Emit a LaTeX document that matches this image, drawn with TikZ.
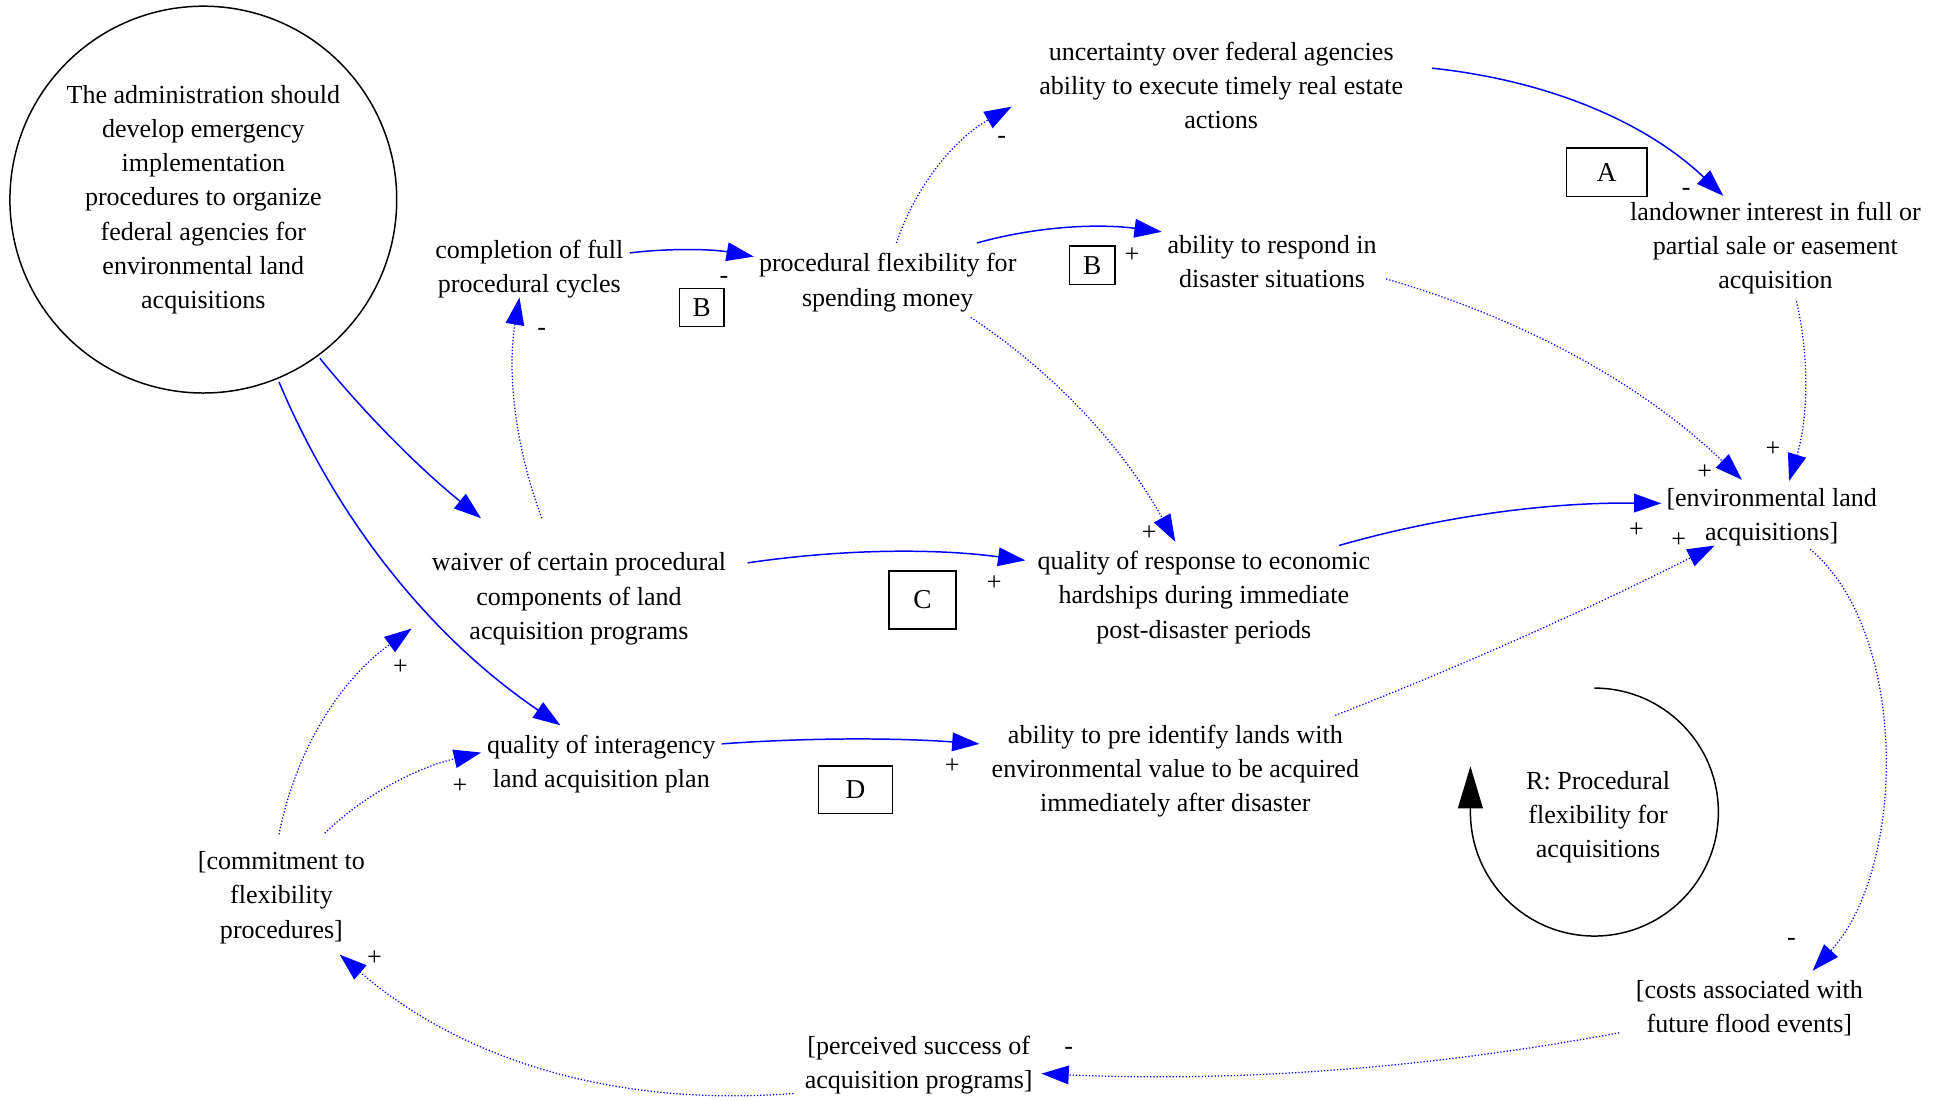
\documentclass[tikz,border=0pt]{standalone}
\usepackage{fontspec}
\setmainfont{Liberation Serif}
\usetikzlibrary{arrows.meta,calc}
\begin{document}
\begin{tikzpicture}[x=0.5pt,y=0.5pt,
  lbl/.style={font=\fontsize{10.5}{13.8}\selectfont, align=center, inner sep=0pt},
  pol/.style={font=\fontsize{10.5}{12}\selectfont, inner sep=0pt},
  box/.style={draw, line width=0.6pt, font=\fontsize{11}{13}\selectfont, inner sep=0pt},
  sl/.style={blue, line width=0.6pt, -{Triangle[length=11pt,width=7.5pt]}},
  dl/.style={blue, line width=0.5pt, dash pattern=on 0.5pt off 0.8pt, -{Triangle[length=11pt,width=7.5pt]}}]
\useasboundingbox (0,0) rectangle (1568,-887);

\node[circle, draw, line width=0.6pt, minimum size=156pt, lbl] (admin) at (164,-161) {The administration should\\develop emergency\\implementation\\procedures to organize\\federal agencies for\\environmental land\\acquisitions};
\node[lbl] (compl) at (427,-217) {completion of full\\procedural cycles};
\node[lbl] (pflex) at (716,-228) {procedural flexibility for\\spending money};
\node[lbl] (uncert) at (985,-69) {uncertainty over federal agencies\\ability to execute timely real estate\\actions};
\node[lbl] (respond) at (1026,-211) {ability to respond in\\disaster situations};
\node[lbl] (landown) at (1432,-200) {landowner interest in full or\\partial sale or easement\\acquisition};
\node[lbl] (envland) at (1429,-417) {[environmental land\\acquisitions]};
\node[lbl] (waiver) at (467,-483) {waiver of certain procedural\\components of land\\acquisition programs};
\node[lbl] (qresp) at (971,-482) {quality of response to economic\\hardships during immediate\\post-disaster periods};
\node[lbl] (qinter) at (485,-616) {quality of interagency\\land acquisition plan};
\node[lbl] (preid) at (948,-622) {ability to pre identify lands with\\environmental value to be acquired\\immediately after disaster};
\node[lbl] (rloop) at (1289,-659) {R: Procedural\\flexibility for\\acquisitions};
\node[lbl] (costs) at (1411,-813) {[costs associated with\\future flood events]};
\node[lbl] (percv) at (741,-859) {[perceived success of\\acquisition programs]};
\node[lbl] (commit) at (227,-724) {[commitment to\\flexibility\\procedures]};

\node[box, minimum width=32.5pt, minimum height=19.5pt] (bA) at (1296,-139) {A};
\node[box, minimum width=18pt, minimum height=15.5pt] (bB1) at (566,-248) {B};
\node[box, minimum width=18.5pt, minimum height=15.5pt] (bB2) at (881,-214) {B};
\node[box, minimum width=27pt, minimum height=23.5pt] (bC) at (744,-484) {C};
\node[box, minimum width=30pt, minimum height=19pt] (bD) at (690,-637) {D};

\draw[sl] ($(admin)+(94,-128)$) .. controls (297,-337) and (341,-380) .. ($(waiver)+(-79,65)$);
\draw[sl] ($(admin)+(61,-147)$) .. controls (273,-422) and (349,-515) .. ($(qinter)+(-33,31)$);
\draw[sl] ($(compl)+(81,13)$) .. controls (541,-200) and (575,-201) .. ($(pflex)+(-108,21)$);
\draw[dl] ($(waiver)+(-30,65)$) .. controls (415,-359) and (409,-299) .. ($(compl)+(-8,-23)$);
\draw[dl] ($(pflex)+(7,32)$) .. controls (739,-149) and (770,-112) .. ($(uncert)+(-169,-17)$);
\draw[sl] ($(pflex)+(72,32)$) .. controls (834,-183) and (884,-180) .. ($(respond)+(-89,24)$);
\draw[dl] ($(pflex)+(67,-28)$) .. controls (851,-301) and (906,-361) .. ($(qresp)+(-23,45)$);
\draw[sl] ($(uncert)+(170,14)$) .. controls (1250,-65) and (1328,-99) .. ($(landown)+(-42,42)$);
\draw[dl] ($(respond)+(92,-14)$) .. controls (1232,-258) and (1327,-312) .. ($(envland)+(-24,30)$);
\draw[dl] ($(landown)+(17,-43)$) .. controls (1460,-291) and (1458,-339) .. ($(envland)+(14,29)$);
\draw[sl] ($(waiver)+(136,29)$) .. controls (678,-443) and (752,-442) .. ($(qresp)+(-144,30)$);
\draw[sl] ($(qresp)+(109,42)$) .. controls (1160,-417) and (1247,-405) .. ($(envland)+(-89,11)$);
\draw[dl] ($(preid)+(129,45)$) .. controls (1182,-536) and (1284,-490) .. ($(envland)+(-46,-23)$);
\draw[sl] ($(qinter)+(97,16)$) .. controls (651,-595) and (721,-595) .. ($(preid)+(-158,22)$);
\draw[dl] ($(commit)+(-2,51)$) .. controls (239,-604) and (274,-549) .. ($(waiver)+(-135,-24)$);
\draw[dl] ($(commit)+(35,52)$) .. controls (295,-640) and (337,-619) .. ($(qinter)+(-97,9)$);
\draw[dl] ($(envland)+(31,-26)$) .. controls (1540,-510) and (1538,-700) .. ($(costs)+(51,30)$);
\draw[dl] ($(costs)+(-105,-20)$) .. controls (1151,-862) and (995,-873) .. ($(percv)+(99,-7)$);
\draw[dl] ($(percv)+(-101,-23)$) .. controls (495,-893) and (373,-855) .. ($(commit)+(47,-46)$);

\node[pol] (p1) at (584,-226) {-};
\node[pol] (p2) at (437,-268) {-};
\node[pol] (p3) at (808,-113) {-};
\node[pol] (p4) at (913,-206) {+};
\node[pol] (p5) at (927,-430) {+};
\node[pol] (p6) at (1360,-155) {-};
\node[pol] (p7) at (1375,-381) {+};
\node[pol] (p8) at (1430,-362) {+};
\node[pol] (p9) at (802,-470) {+};
\node[pol] (p10) at (1320,-428) {+};
\node[pol] (p11) at (1354,-436) {+};
\node[pol] (p12) at (768,-618) {+};
\node[pol] (p13) at (323,-538) {+};
\node[pol] (p14) at (371,-634) {+};
\node[pol] (p15) at (1445,-760) {-};
\node[pol] (p16) at (862,-848) {-};
\node[pol] (p17) at (302,-773) {+};

\draw[black, line width=0.6pt, -{Triangle[length=17pt,width=10pt]}] ($(rloop)+(-3,104)$) arc[start angle=90, end angle=-180, radius=100] -- ++(0,37);
\end{tikzpicture}
\end{document}
